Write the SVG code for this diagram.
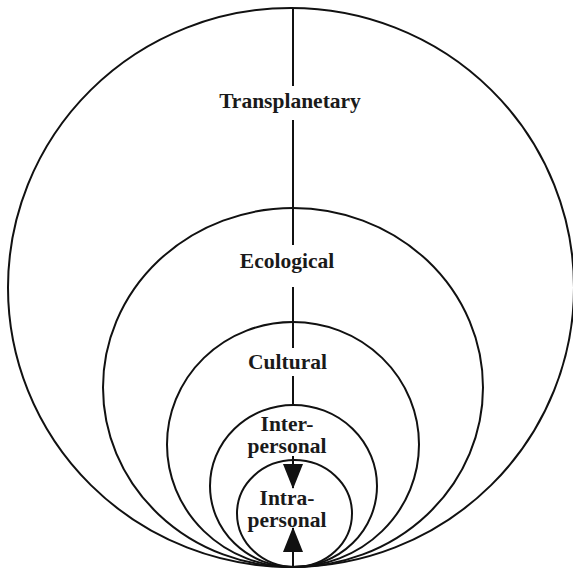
<svg xmlns="http://www.w3.org/2000/svg" width="573" height="568" viewBox="0 0 573 568">
  <style>
    .ring { fill: none; stroke: #111; stroke-width: 2; }
    .axis { stroke: #111; stroke-width: 2; fill: none; }
    .lbl { font-family: "Liberation Serif", "DejaVu Serif", serif; font-weight: bold; font-size: 21.5px; fill: #1a1a1a; text-anchor: middle; }
  </style>
  <defs>
    <marker id="tri" viewBox="0 0 25 20" refX="24" refY="10" markerWidth="25" markerHeight="20" markerUnits="userSpaceOnUse" orient="auto">
      <path d="M0,0 L25,10 L0,20 z" fill="#111"/>
    </marker>
  </defs>
  <rect width="573" height="568" fill="#fff"/>

  <g id="transplanetary">
    <ellipse class="ring" cx="291" cy="287.5" rx="283" ry="279.5"/>
    <text class="lbl" x="290" y="108">Transplanetary</text>
  </g>
  <g id="ecological">
    <ellipse class="ring" cx="293" cy="387.5" rx="190" ry="179.5"/>
    <text class="lbl" x="287" y="268">Ecological</text>
  </g>
  <g id="cultural">
    <ellipse class="ring" cx="293" cy="444.5" rx="126" ry="122.5"/>
    <text class="lbl" x="287.5" y="369">Cultural</text>
  </g>
  <g id="interpersonal">
    <ellipse class="ring" cx="293.5" cy="486" rx="83.5" ry="81"/>
    <text class="lbl" x="287" y="431">Inter-</text>
    <text class="lbl" x="287" y="453">personal</text>
  </g>
  <g id="intrapersonal">
    <ellipse class="ring" cx="294.5" cy="513.5" rx="57.5" ry="53.5"/>
    <text class="lbl" x="287" y="505">Intra-</text>
    <text class="lbl" x="287" y="527">personal</text>
  </g>

  <g id="connectors">
    <line class="axis" x1="293" y1="8" x2="293" y2="86"/>
    <line class="axis" x1="293" y1="120" x2="293" y2="245"/>
    <line class="axis" x1="293" y1="287" x2="293" y2="348"/>
    <line class="axis" x1="293" y1="376" x2="293" y2="406"/>
    <line class="axis" x1="293" y1="456" x2="293" y2="488" marker-end="url(#tri)"/>
    <line class="axis" x1="293" y1="567" x2="293" y2="528" marker-end="url(#tri)"/>
  </g>
</svg>
